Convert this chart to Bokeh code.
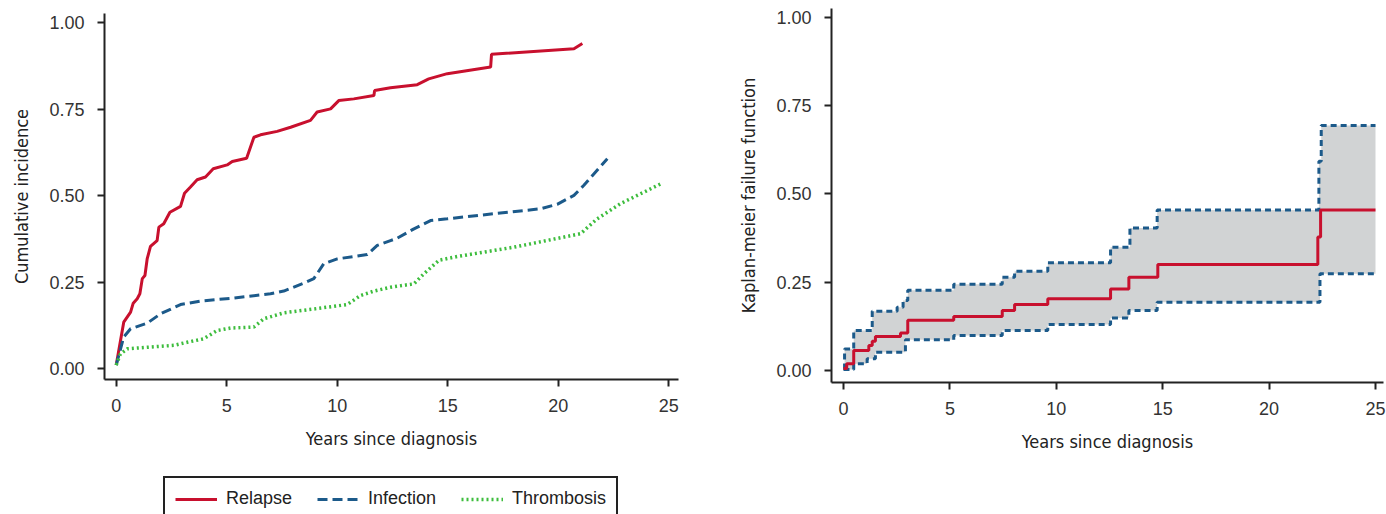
import numpy as np
from bokeh.plotting import figure
from bokeh.models import Range1d, Legend, LegendItem, FixedTicker, NumeralTickFormatter
from bokeh.layouts import row, column
from bokeh.embed import file_html
from bokeh.resources import INLINE

# ---------------- data: left panel (cumulative incidence) ----------------
relapse_t = [0.0, 0.34, 0.65, 0.77, 0.95, 1.07, 1.18, 1.30, 1.40, 1.55, 1.85, 1.93, 2.15, 2.43, 2.91,
             3.09, 3.36, 3.66, 4.04, 4.39, 5.02, 5.25, 5.90, 6.23, 6.53, 7.28, 7.89, 8.79, 9.09, 9.70,
             10.07, 10.75, 11.66, 11.69, 12.41, 13.62, 14.14, 14.98, 16.94, 16.98, 20.71, 21.09]
relapse_v = [0.01, 0.134, 0.163, 0.189, 0.202, 0.216, 0.26, 0.269, 0.317, 0.353, 0.370, 0.409, 0.419, 0.452, 0.469,
             0.507, 0.525, 0.546, 0.554, 0.578, 0.589, 0.599, 0.608, 0.669, 0.676, 0.686, 0.698, 0.718, 0.742, 0.751,
             0.775, 0.780, 0.790, 0.804, 0.812, 0.821, 0.838, 0.853, 0.872, 0.909, 0.925, 0.940]

infection_t = [0.0, 0.34, 0.65, 1.40, 2.00, 2.91, 3.81, 5.17, 6.98, 7.58, 8.49, 8.94, 9.39, 10.00, 11.36,
               11.81, 12.41, 12.71, 13.47, 14.22, 14.98, 17.24, 19.20, 19.95, 20.71, 21.16, 22.22]
infection_v = [0.01, 0.091, 0.115, 0.131, 0.158, 0.185, 0.195, 0.203, 0.216, 0.224, 0.247, 0.260, 0.303, 0.317, 0.330,
               0.356, 0.370, 0.377, 0.404, 0.428, 0.433, 0.449, 0.462, 0.475, 0.501, 0.530, 0.607]

thrombosis_t = [0.0, 0.19, 0.50, 2.61, 3.21, 3.96, 4.57, 5.17, 6.23, 6.68, 7.58, 9.39, 10.45, 11.05, 11.66,
                12.41, 13.47, 13.92, 14.60, 15.43, 17.99, 21.01, 21.76, 22.82, 24.63]
thrombosis_v = [0.01, 0.042, 0.057, 0.067, 0.076, 0.086, 0.110, 0.117, 0.120, 0.144, 0.161, 0.176, 0.185, 0.211, 0.224,
                0.235, 0.245, 0.274, 0.313, 0.324, 0.351, 0.390, 0.433, 0.477, 0.534]

# ---------------- data: right panel (Kaplan-Meier failure) ----------------
km_t = [0.0, 0.15, 0.48, 1.19, 1.35, 1.50, 2.68, 3.02, 5.18, 7.46, 8.04, 9.60, 12.55, 13.41, 14.77, 22.29, 22.42, 25.0]
km_v = [0.006, 0.019, 0.057, 0.071, 0.083, 0.096, 0.106, 0.142, 0.153, 0.170, 0.187, 0.203, 0.231, 0.264, 0.300, 0.378, 0.455, 0.455]

upper_t = [0.0, 0.05, 0.48, 1.35, 2.52, 2.80, 3.02, 5.18, 7.46, 8.04, 9.60, 12.55, 13.46, 14.74, 22.34, 22.45, 25.0]
upper_v = [0.006, 0.061, 0.113, 0.168, 0.179, 0.198, 0.227, 0.244, 0.264, 0.281, 0.305, 0.349, 0.404, 0.455, 0.593, 0.694, 0.694]

lower_t = [0.0, 0.48, 1.11, 1.50, 2.91, 5.18, 7.46, 9.60, 12.55, 13.41, 14.74, 22.39, 25.0]
lower_v = [0.003, 0.019, 0.033, 0.052, 0.087, 0.099, 0.113, 0.130, 0.149, 0.170, 0.193, 0.274, 0.274]

x_ticks = [0, 5, 10, 15, 20, 25]
y_ticks = [0, 0.25, 0.5, 0.75, 1.0]
x_title = "Years since diagnosis"
left_y_title = "Cumulative incidence"
right_y_title = "Kaplan-meier failure function"
series_names = ["Relapse", "Infection", "Thrombosis"]

RED = "#c8102e"
BLUE = "#1c5a8a"
GREEN = "#3dbd3d"
GREY = "#d1d3d4"
INK = "#222222"
TICK_FONT = "Liberation Sans"
TITLE_FONT = "'DejaVu Sans Condensed', 'Liberation Sans', sans-serif"


def style(p):
    p.outline_line_color = None
    p.xgrid.visible = False
    p.ygrid.visible = False
    p.background_fill_color = "white"
    p.border_fill_color = "white"
    for ax in (p.xaxis[0], p.yaxis[0]):
        ax.axis_line_width = 2
        ax.axis_line_color = INK
        ax.major_tick_line_width = 2
        ax.major_tick_line_color = INK
        ax.major_tick_out = 7
        ax.major_tick_in = 0
        ax.minor_tick_line_color = None
        ax.major_label_text_font = TICK_FONT
        ax.major_label_text_font_size = "18px"
        ax.major_label_text_color = "#333333"
        ax.axis_label_text_font = TITLE_FONT
        ax.axis_label_text_font_size = "18px"
        ax.axis_label_text_font_style = "normal"
        ax.axis_label_text_color = INK
    p.xaxis[0].ticker = FixedTicker(ticks=x_ticks)
    p.yaxis[0].ticker = FixedTicker(ticks=y_ticks)
    p.yaxis[0].formatter = NumeralTickFormatter(format="0.00")
    p.xaxis[0].major_label_standoff = 12
    p.xaxis[0].axis_label_standoff = 13
    p.yaxis[0].major_label_standoff = 13
    p.yaxis[0].axis_label_standoff = 14


# ---------------- left figure ----------------
p1 = figure(frame_width=574, frame_height=366, output_backend="svg", toolbar_location=None,
            x_range=Range1d(-0.53, 25.44), y_range=Range1d(-0.0318, 1.027),
            min_border_left=104, min_border_right=52, min_border_top=13, min_border_bottom=90,
            x_axis_label=x_title, y_axis_label=left_y_title)
style(p1)

p1.line(relapse_t, relapse_v, line_color=RED, line_width=3)
p1.line(infection_t, infection_v, line_color=BLUE, line_width=3, line_dash="10 5")
p1.line(thrombosis_t, thrombosis_v, line_color=GREEN, line_width=3.5, line_dash="2 3")

# ---------------- legend strip under the left panel ----------------
leg = figure(frame_width=730, frame_height=45, output_backend="svg", toolbar_location=None,
             x_range=Range1d(0, 1), y_range=Range1d(0, 1),
             x_axis_location=None, y_axis_location=None,
             min_border_left=0, min_border_right=0, min_border_top=0, min_border_bottom=0)
leg.outline_line_color = None
leg.xgrid.visible = False
leg.ygrid.visible = False
# single-point proxies: they draw nothing in the strip, only their legend glyphs
g_rel = leg.line(x=[0], y=[0], line_color=RED, line_width=3)
g_inf = leg.line(x=[0], y=[0], line_color=BLUE, line_width=3, line_dash="10 5")
g_thr = leg.line(x=[0], y=[0], line_color=GREEN, line_width=3.5, line_dash="2 3")
legend = Legend(items=[LegendItem(label=series_names[0], renderers=[g_rel]),
                       LegendItem(label=series_names[1], renderers=[g_inf]),
                       LegendItem(label=series_names[2], renderers=[g_thr])],
                orientation="horizontal", location=(163, -7),
                border_line_color=INK, border_line_width=2, border_line_alpha=1,
                padding=10, spacing=25, label_standoff=9, glyph_width=42, glyph_height=20,
                label_text_font=TICK_FONT, label_text_font_size="18px", label_text_color=INK,
                margin=0, background_fill_alpha=1)
leg.add_layout(legend, "center")

# ---------------- right figure ----------------
p2 = figure(frame_width=552, frame_height=374, output_backend="svg", toolbar_location=None,
            x_range=Range1d(-0.564, 25.376), y_range=Range1d(-0.034, 1.0255),
            min_border_left=101, min_border_right=3, min_border_top=8, min_border_bottom=100,
            x_axis_label=x_title, y_axis_label=right_y_title)
style(p2)


def step_eval(ts, vs, grid):
    ts = np.asarray(ts)
    vs = np.asarray(vs)
    idx = np.searchsorted(ts, grid, side="right") - 1
    idx = np.clip(idx, 0, len(vs) - 1)
    return vs[idx]


grid = np.unique(np.concatenate([upper_t, lower_t]))
p2.varea_step(x=grid, y1=step_eval(lower_t, lower_v, grid), y2=step_eval(upper_t, upper_v, grid),
              step_mode="after", fill_color=GREY)
p2.step(upper_t, upper_v, mode="after", line_color=BLUE, line_width=3, line_dash="6 4")
p2.step(lower_t, lower_v, mode="after", line_color=BLUE, line_width=3, line_dash="6 4")
p2.step(km_t, km_v, mode="after", line_color=RED, line_width=3)

layout = row(column(p1, leg), p2)
open("out.html", "w").write(file_html(layout, INLINE))
